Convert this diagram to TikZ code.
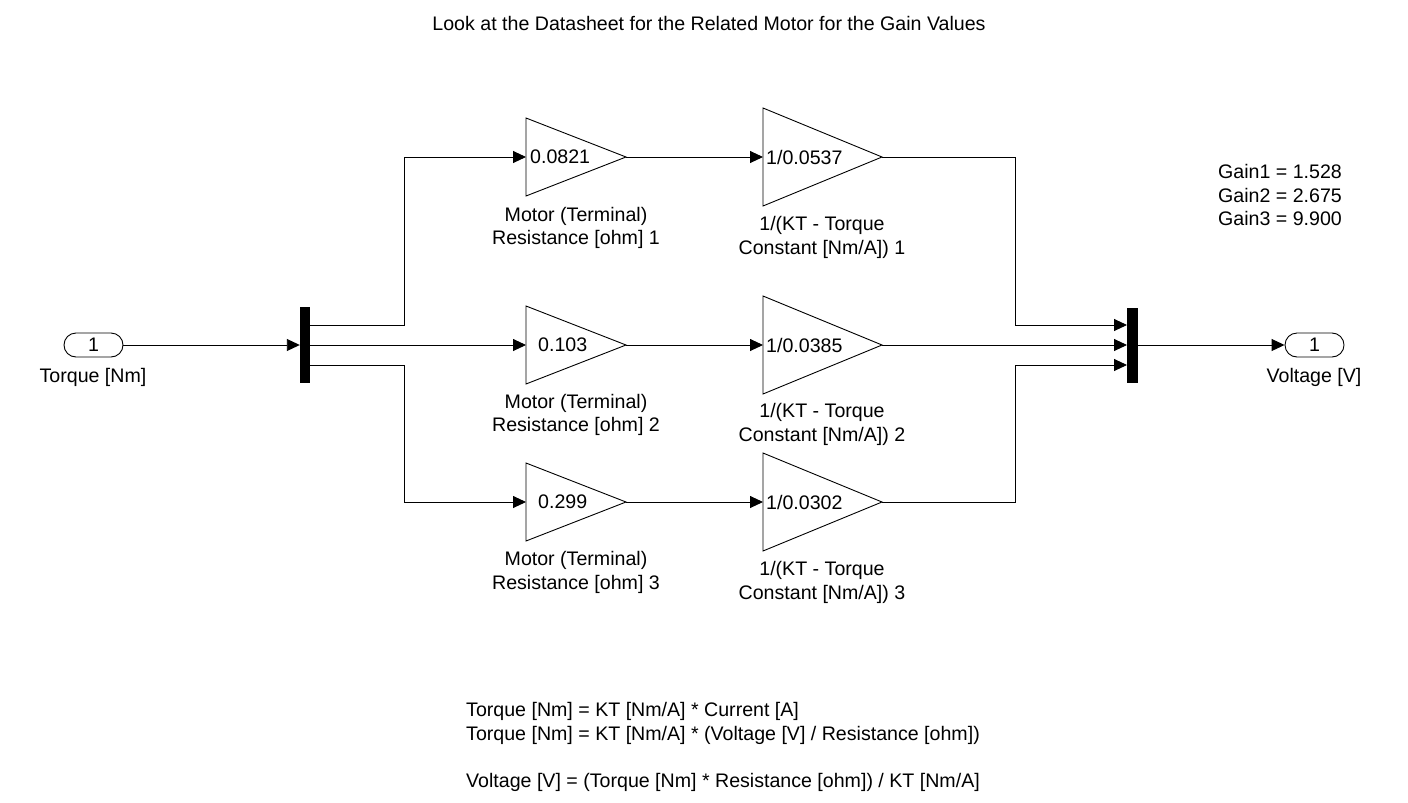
\documentclass[tikz,border=0pt]{standalone}
\usepackage{fontspec}
\setmainfont{Liberation Sans}
\usetikzlibrary{arrows.meta}
\begin{document}
\begin{tikzpicture}[x=1pt,y=-1pt,
  font=\fontsize{19.6}{23.5}\selectfont,
  sig/.style={line width=0.9pt,-{Triangle[length=13pt,width=12pt]}},
  blk/.style={draw,line width=0.9pt,line join=miter},
  port/.style={draw,line width=0.9pt,rounded corners=12pt,minimum width=59pt,minimum height=24pt,inner sep=0pt},
  bar/.style={fill=black,inner sep=0pt,minimum width=10pt,minimum height=76pt},
  lbl/.style={align=center,inner sep=0pt}]
\useasboundingbox (0,0) rectangle (1408,803);

\node[inner sep=0pt] (title) at (709,23) {Look at the Datasheet for the Related Motor for the Gain Values};

% inport / outport
\node[port] (in) at (93.5,345) {1};
\node[lbl] (inlbl) at (93,377) {Torque [Nm]};
\node[port] (out) at (1314.5,345) {1};
\node[lbl] (outlbl) at (1314,377) {Voltage [V]};

% demux and mux
\node[bar] (demux) at (305,345) {};
\node[bar,minimum width=11pt,minimum height=75pt] (mux) at (1132.5,345) {};
\coordinate (d1) at (310,325);
\coordinate (d2) at (310,345);
\coordinate (d3) at (310,365);
\coordinate (m1) at (1127,325);
\coordinate (m2) at (1127,345);
\coordinate (m3) at (1127,365);
\coordinate (mo) at (1138,345);

% row 1
\draw[blk] (526,118) -- (626,157) -- (526,196) -- cycle;
\coordinate (ga1) at (526,157); \coordinate (ga1o) at (626,157);
\node[anchor=west,inner sep=0pt] (ga1t) at (530,157) {0.0821};
\node[lbl] (ga1l) at (576,228) {Motor (Terminal)\\Resistance [ohm] 1};
\draw[blk] (763,108) -- (882,157) -- (763,206) -- cycle;
\coordinate (gb1) at (763,157); \coordinate (gb1o) at (882,157);
\node[anchor=west,inner sep=0pt] (gb1t) at (766,157) {1/0.0537};
\node[lbl] (gb1l) at (822,237.5) {1/(KT - Torque\\Constant [Nm/A]) 1};

% row 2
\draw[blk] (526,306) -- (626,345) -- (526,384) -- cycle;
\coordinate (ga2) at (526,345); \coordinate (ga2o) at (626,345);
\node[anchor=west,inner sep=0pt] (ga2t) at (538,345) {0.103};
\node[lbl] (ga2l) at (576,415) {Motor (Terminal)\\Resistance [ohm] 2};
\draw[blk] (763,296) -- (882,345) -- (763,394) -- cycle;
\coordinate (gb2) at (763,345); \coordinate (gb2o) at (882,345);
\node[anchor=west,inner sep=0pt] (gb2t) at (766,345) {1/0.0385};
\node[lbl] (gb2l) at (822,424.5) {1/(KT - Torque\\Constant [Nm/A]) 2};

% row 3
\draw[blk] (526,463) -- (626,502) -- (526,541) -- cycle;
\coordinate (ga3) at (526,502); \coordinate (ga3o) at (626,502);
\node[anchor=west,inner sep=0pt] (ga3t) at (538,502) {0.299};
\node[lbl] (ga3l) at (576,572.5) {Motor (Terminal)\\Resistance [ohm] 3};
\draw[blk] (763,453) -- (882,502) -- (763,551) -- cycle;
\coordinate (gb3) at (763,502); \coordinate (gb3o) at (882,502);
\node[anchor=west,inner sep=0pt] (gb3t) at (766,502) {1/0.0302};
\node[lbl] (gb3l) at (822,582.5) {1/(KT - Torque\\Constant [Nm/A]) 3};

% connectors
\draw[sig] (in.east) -- (in.east -| demux.west);
\draw[sig] (d1) -- ++(94,0) |- (ga1);
\draw[sig] (d2) -- (ga2);
\draw[sig] (d3) -- ++(94,0) |- (ga3);
\draw[sig] (ga1o) -- (gb1);
\draw[sig] (ga2o) -- (gb2);
\draw[sig] (ga3o) -- (gb3);
\draw[sig] (gb1o) -- ++(133,0) |- (m1);
\draw[sig] (gb2o) -- (m2);
\draw[sig] (gb3o) -- ++(133,0) |- (m3);
\draw[sig] (mo) -- (out.west);

% annotations
\node[anchor=west,align=left,inner sep=0pt] (gains) at (1218,195) {Gain1 = 1.528\\Gain2 = 2.675\\Gain3 = 9.900};
\node[anchor=west,align=left,inner sep=0pt] (eqs) at (466,747) {Torque [Nm] = KT [Nm/A] * Current [A]\\Torque [Nm] = KT [Nm/A] * (Voltage [V] / Resistance [ohm])\\[23.5pt]Voltage [V] = (Torque [Nm] * Resistance [ohm]) / KT [Nm/A]};
\end{tikzpicture}
\end{document}
